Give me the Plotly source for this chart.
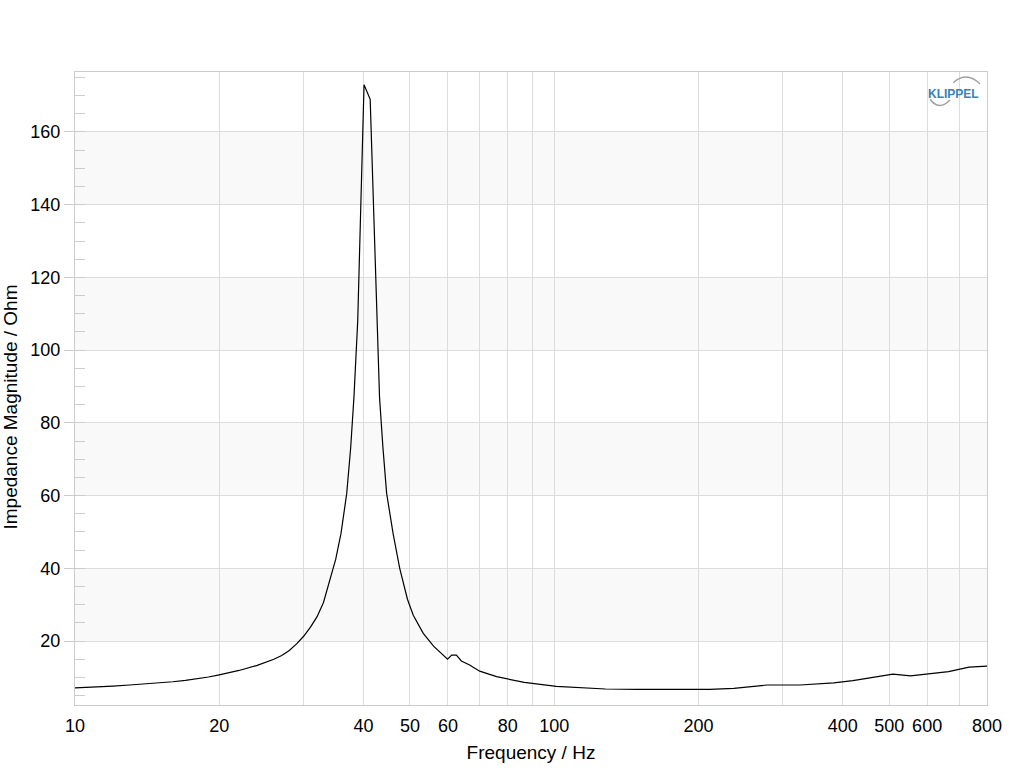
import plotly.graph_objects as go

# impedance curve
freq_hz = [
    10, 11, 12, 13, 14, 15, 16, 17, 18, 19, 20, 22, 24, 25, 26, 27, 28, 29,
    30, 31, 32, 33, 34, 34.6, 35, 35.9, 36.9, 37.6, 38.2, 38.9, 40.1, 41.3,
    42.5, 43.2, 43.9, 44.7, 46.1, 47.6, 49.4, 50.8, 53.3, 56, 59.9, 61.1,
    62.5, 64, 66.6, 69.9, 75.8, 86.6, 101, 115, 128, 150, 180, 211, 237, 278,
    326, 383, 420, 448, 509, 554, 612, 665, 734, 800,
]
impedance_ohm = [
    7.1, 7.3, 7.6, 7.9, 8.2, 8.5, 8.8, 9.2, 9.6, 10.1, 10.7, 11.9, 13.3, 14.1,
    15.0, 16.0, 17.4, 19.2, 21.3, 23.8, 26.7, 30.6, 36.5, 40.0, 42.5, 49.6,
    60.6, 73, 87, 108, 173, 169, 113, 87, 73.4, 60.6, 49.6, 40, 31.5, 27.1,
    22.1, 18.6, 15.0, 16.1, 16.1, 14.5, 13.4, 11.7, 10.2, 8.6, 7.5, 7.15, 6.8,
    6.7, 6.7, 6.7, 7.0, 7.9, 7.9, 8.5, 9.1, 9.7, 10.9, 10.4, 11.1, 11.6, 12.8,
    13.1,
]

x_grid = [10, 20, 30, 40, 50, 60, 70, 80, 90, 100,
          200, 300, 400, 500, 600, 700, 800]
x_labels = ["10", "20", "", "40", "50", "60", "", "80", "", "100",
            "200", "", "400", "500", "600", "", "800"]
y_ticks = [20, 40, 60, 80, 100, 120, 140, 160]

GRID = "#dcdcdc"
FRAME = "#cccccc"
BAND = "#f9f9f9"

fig = go.Figure()
fig.add_trace(
    go.Scatter(
        x=freq_hz,
        y=impedance_ohm,
        mode="lines",
        line=dict(color="black", width=1.2),
        hoverinfo="x+y",
        showlegend=False,
    )
)

# alternating grey bands between every other pair of y ticks
for lo, hi in zip(y_ticks[0::2], y_ticks[1::2]):
    fig.add_shape(
        type="rect", xref="paper", yref="y", x0=0, x1=1, y0=lo, y1=hi,
        fillcolor=BAND, line_width=0, layer="below",
    )

# y title as an annotation: the original sits a bit below the plot centre
fig.add_annotation(
    x=-0.0707, y=0.4708, xref="paper", yref="paper",
    text="Impedance Magnitude / Ohm", textangle=-90,
    xanchor="center", yanchor="middle", showarrow=False,
    font=dict(size=19, color="black"),
)

# KLIPPEL logo
fig.add_annotation(
    x=0.9628, y=0.965, xref="paper", yref="paper", text="<b>KLIPPEL</b>",
    xanchor="center", yanchor="middle", showarrow=False,
    font=dict(size=12, color="#3a82b5", family="Liberation Sans"),
)
fig.add_shape(
    type="path", xref="paper", yref="paper",
    path="M 0.963,0.983 Q 0.9778,1.002 0.9923,0.981",
    line=dict(color="#a0a0a0", width=1.5),
)
fig.add_shape(
    type="path", xref="paper", yref="paper",
    path="M 0.9375,0.9569 Q 0.9474,0.938 0.9594,0.9558",
    line=dict(color="#a0a0a0", width=1.5),
)

fig.update_xaxes(
    type="log",
    range=[1, 2.90309],
    tickvals=x_grid,
    ticktext=x_labels,
    ticks="outside",
    ticklen=4,
    tickcolor="rgba(0,0,0,0)",
    showgrid=True,
    gridcolor=GRID,
    showline=True,
    linecolor=FRAME,
    mirror=True,
    zeroline=False,
    automargin=False,
    title_text="Frequency / Hz",
    title_font=dict(size=19, color="black"),
    tickfont=dict(size=18, color="black"),
    title_standoff=11,
)
fig.update_yaxes(
    range=[2.4, 176.5],
    tickvals=y_ticks,
    ticks="outside",
    ticklen=10,
    tickcolor=FRAME,
    showgrid=True,
    gridcolor=GRID,
    showline=True,
    linecolor=FRAME,
    mirror=True,
    zeroline=False,
    automargin=False,
    minor=dict(ticks="inside", ticklen=10, dtick=5, tick0=0,
               tickcolor=FRAME, showgrid=False),
    tickfont=dict(size=18, color="black"),
)
fig.update_layout(
    width=1024,
    height=768,
    margin=dict(l=75, r=37, t=72, b=63),
    paper_bgcolor="white",
    plot_bgcolor="white",
    font=dict(family="Liberation Sans, Arial, sans-serif", color="black"),
)

# drop the page's default 8px body margin so the figure fills the window
fig.write_html(
    "out.html",
    config={"displayModeBar": False},
    post_script="document.body.style.margin = '0px';",
)
